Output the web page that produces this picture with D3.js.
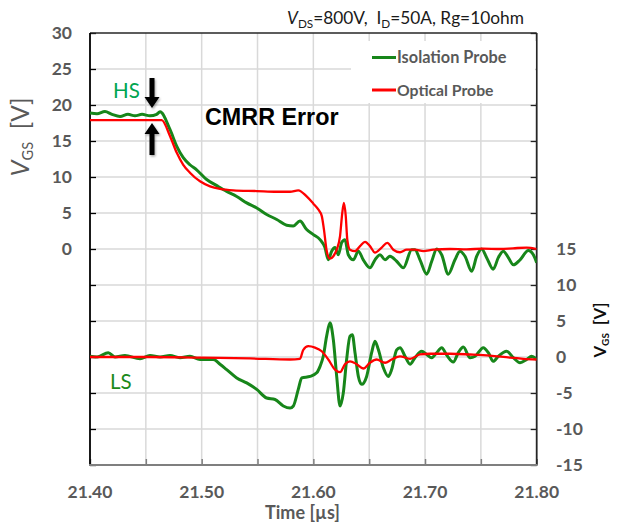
<!DOCTYPE html>
<html><head><meta charset="utf-8">
<script src="https://cdn.jsdelivr.net/npm/d3@7"></script>
<style>body{margin:0;background:#fff}svg{display:block}</style>
</head><body>
<svg id="c" width="626" height="527"></svg>
<script>
// ---- data ----
const xTicks = [21.40, 21.45, 21.50, 21.55, 21.60, 21.65, 21.70, 21.75, 21.80];
const xTickLabels = ["21.40", "", "21.50", "", "21.60", "", "21.70", "", "21.80"];
const leftTicks = [0, 5, 10, 15, 20, 25, 30];
const rightTicks = [-15, -10, -5, 0, 5, 10, 15];
const seriesNames = ["Isolation Probe", "Optical Probe"];

// High side (left axis)
const hsIsoT = [21.4000,21.4063,21.4134,21.4197,21.4269,21.4340,21.4403,21.4466,21.4537,21.4597,21.4627,21.4716,21.4776,21.4835,21.4895,21.4955,21.5045,21.5135,21.5224,21.5314,21.5403,21.5493,21.5582,21.5672,21.5761,21.5820,21.5880,21.5940,21.6000,21.6060,21.6104,21.6134,21.6164,21.6194,21.6223,21.6254,21.6283,21.6313,21.6358,21.6403,21.6447,21.6507,21.6552,21.6597,21.6642,21.6686,21.6746,21.6806,21.6881,21.6910,21.6955,21.7015,21.7060,21.7105,21.7149,21.7208,21.7268,21.7313,21.7358,21.7418,21.7463,21.7507,21.7552,21.7611,21.7656,21.7701,21.7746,21.7791,21.7851,21.7925,21.7970,21.8000];
const hsIsoV = [18.9,18.8,19.1,18.7,18.4,18.7,18.5,18.7,18.5,18.7,19.05,16.6,14.3,12.7,11.7,11.0,9.65,8.8,8.0,7.3,6.4,5.7,4.8,4.1,3.3,3.2,3.9,2.7,2.0,1.3,0.2,-1.5,-0.3,0.2,-0.8,0.9,1.3,-0.8,-1.5,-0.3,-1.5,-2.6,-1.5,-0.8,-1.5,-1.0,-1.7,-2.6,-0.1,-0.1,-1.5,-3.5,-1.7,0.0,-0.8,-3.5,-1.5,-0.3,-1.0,-3.1,-1.0,0.0,-1.2,-2.8,-1.2,-0.3,-1.2,-2.2,-1.5,-0.2,-0.8,-1.9];
const hsOptT = [21.4000,21.4642,21.4716,21.4776,21.4835,21.4895,21.4985,21.5075,21.5164,21.5283,21.5493,21.5672,21.5791,21.5865,21.5940,21.6000,21.6044,21.6075,21.6095,21.6120,21.6149,21.6179,21.6209,21.6239,21.6259,21.6274,21.6290,21.6304,21.6328,21.6373,21.6418,21.6463,21.6507,21.6552,21.6612,21.6662,21.6716,21.6776,21.6836,21.6910,21.6985,21.7074,21.7224,21.7373,21.7519,21.7672,21.7788,21.7910,21.8000];
const hsOptV = [17.9,17.9,15.7,13.4,11.7,10.6,9.4,8.7,8.35,8.15,8.05,7.95,7.95,8.15,7.3,6.3,5.5,4.6,2.7,-0.3,-1.35,-1.0,-0.1,1.8,5.0,6.4,4.6,1.3,-0.1,-0.3,0.4,1.0,0.4,-0.5,0.2,0.85,-0.1,-0.45,-0.1,-0.1,-0.3,-0.1,0.0,-0.05,0.05,0.0,0.1,0.2,0.0];

// Low side (right axis)
const lsIsoT = [21.4000,21.4063,21.4164,21.4224,21.4313,21.4448,21.4537,21.4627,21.4716,21.4806,21.4895,21.4985,21.5104,21.5164,21.5224,21.5314,21.5403,21.5493,21.5582,21.5657,21.5731,21.5791,21.5821,21.5865,21.5896,21.5970,21.6030,21.6060,21.6089,21.6119,21.6149,21.6179,21.6209,21.6239,21.6268,21.6298,21.6328,21.6349,21.6373,21.6403,21.6433,21.6477,21.6522,21.6552,21.6582,21.6627,21.6671,21.6701,21.6746,21.6776,21.6821,21.6866,21.6910,21.6970,21.7015,21.7060,21.7105,21.7149,21.7197,21.7253,21.7298,21.7343,21.7403,21.7448,21.7522,21.7567,21.7611,21.7656,21.7731,21.7791,21.7851,21.7910,21.7955,21.8000];
const lsIsoV = [0.1,0.0,0.6,0.0,0.2,-0.25,0.2,0.0,0.2,-0.1,0.1,-0.35,-0.35,-1.0,-1.75,-2.9,-3.6,-4.5,-5.7,-5.9,-6.8,-7.1,-6.8,-4.5,-2.9,-2.7,-2.2,-1.3,0.1,2.9,4.75,2.4,-2.7,-6.8,-5.0,-0.35,2.9,3.1,0.6,-2.7,-3.8,-2.7,0.6,2.2,1.04,-1.5,-2.7,-1.75,1.0,1.3,0.1,-1.0,-0.1,0.8,0.35,-0.1,0.6,1.3,0.2,-0.7,0.6,1.4,-0.1,0.1,1.3,0.6,-0.6,0.1,0.8,-0.1,-0.8,-0.35,0.1,-0.35];
const lsOptT = [21.4000,21.4537,21.4985,21.5433,21.5791,21.5880,21.5910,21.5955,21.6015,21.6075,21.6134,21.6194,21.6239,21.6283,21.6328,21.6388,21.6447,21.6507,21.6567,21.6642,21.6701,21.6776,21.6866,21.6955,21.7045,21.7224,21.7403,21.7582,21.7761,21.7880,21.8000];
const lsOptV = [0.0,0.0,-0.1,-0.2,-0.35,-0.25,1.0,1.5,1.3,0.8,-0.35,-1.75,-2.1,-1.0,-0.6,-1.0,-1.6,-0.8,-0.35,-0.8,-0.35,0.1,-0.25,0.35,0.45,0.45,0.35,0.2,-0.1,-0.25,-0.35];

// ---- drawing ----
const GREEN = "#17861a", RED = "#ff0000", GRAY = "#595959", GRID = "#d9d9d9";
const FONT = "Lato, 'Open Sans', sans-serif";
const L = 90, R = 536.7, T = 33, B = 465;
const svg = d3.select("#c");
const x = d3.scaleLinear().domain([21.40, 21.80]).range([L, R]);
const yL = d3.scaleLinear().domain([-30, 30]).range([B, T]);
const yR = d3.scaleLinear().domain([-15, 45]).range([B, T]);

function fit(sel, w) {
  const bw = sel.node().getBBox().width;
  const fs = parseFloat(sel.attr("font-size"));
  sel.attr("font-size", fs * w / bw);
}

// grid
const gridVals = d3.range(-25, 30, 5);
svg.append("g").selectAll("line").data(gridVals).join("line")
  .attr("x1", L).attr("x2", R).attr("y1", d => yL(d)).attr("y2", d => yL(d))
  .attr("stroke", GRID).attr("stroke-width", 1.5);
svg.append("g").selectAll("line").data(xTicks.slice(1, -1)).join("line")
  .attr("x1", d => x(d)).attr("x2", d => x(d)).attr("y1", T).attr("y2", B)
  .attr("stroke", GRID).attr("stroke-width", 1.5);

// axes via d3 axis generators (inward ticks)
const axL = svg.append("g").attr("transform", `translate(${L},0)`)
  .call(d3.axisRight(yL).tickValues(d3.range(-30, 31, 5)).tickSize(6).tickFormat(""));
const axR = svg.append("g").attr("transform", `translate(${R},0)`)
  .call(d3.axisLeft(yR).tickValues(d3.range(-15, 46, 5)).tickSize(6).tickFormat(""));
const axB = svg.append("g").attr("transform", `translate(0,${B})`)
  .call(d3.axisTop(x).tickValues(xTicks).tickSize(6).tickFormat(""));
[axL, axR, axB].forEach(a => a.select(".domain").remove());
axL.selectAll("line").attr("stroke", "#000").attr("stroke-width", 1.3);
axR.selectAll("line").attr("stroke", "#222").attr("stroke-width", 1.3);
axB.selectAll("line").attr("stroke", "#7f7f7f").attr("stroke-width", 1.5);

// frame
svg.append("line").attr("x1", L).attr("x2", R).attr("y1", T).attr("y2", T).attr("stroke", "#262626").attr("stroke-width", 1.5);
svg.append("line").attr("x1", L).attr("x2", L).attr("y1", T).attr("y2", B).attr("stroke", "#000").attr("stroke-width", 1.8);
svg.append("line").attr("x1", R).attr("x2", R).attr("y1", T).attr("y2", B).attr("stroke", "#262626").attr("stroke-width", 1.8);
svg.append("line").attr("x1", L - 1).attr("x2", R + 1).attr("y1", B).attr("y2", B).attr("stroke", "#7f7f7f").attr("stroke-width", 2.2);

// tick labels
const TFS = 17.5;
svg.append("g").selectAll("text").data(leftTicks).join("text")
  .attr("x", 72).attr("y", d => yL(d)).attr("dy", "0.36em").attr("text-anchor", "end")
  .attr("font-family", FONT).attr("font-weight", "bold").attr("font-size", TFS).attr("fill", GRAY)
  .text(d => d);
svg.append("g").selectAll("text").data(rightTicks).join("text")
  .attr("x", 556).attr("y", d => yR(d)).attr("dy", "0.36em").attr("text-anchor", "start")
  .attr("font-family", FONT).attr("font-weight", "bold").attr("font-size", TFS).attr("fill", GRAY)
  .text(d => (d < 0 ? "-" + Math.abs(d) : d));
svg.append("g").selectAll("text").data(xTicks).join("text")
  .attr("x", d => x(d)).attr("y", 498).attr("text-anchor", "middle")
  .attr("font-family", FONT).attr("font-weight", "bold").attr("font-size", TFS).attr("fill", GRAY)
  .text((d, i) => xTickLabels[i]);

// lines
const mk = (T_, V_, ys) => d3.line().curve(d3.curveMonotoneX).x((d, i) => x(T_[i])).y((d, i) => ys(V_[i]))(V_);
svg.append("clipPath").attr("id", "pc").append("rect").attr("x", L).attr("y", T).attr("width", R - L).attr("height", B - T);
const gl = svg.append("g").attr("clip-path", "url(#pc)");
gl.append("path").attr("d", mk(lsIsoT, lsIsoV, yR)).attr("fill", "none").attr("stroke", GREEN).attr("stroke-width", 3).attr("stroke-linejoin", "round");
gl.append("path").attr("d", mk(lsOptT, lsOptV, yR)).attr("fill", "none").attr("stroke", RED).attr("stroke-width", 2.3).attr("stroke-linejoin", "round");
gl.append("path").attr("d", mk(hsIsoT, hsIsoV, yL)).attr("fill", "none").attr("stroke", GREEN).attr("stroke-width", 3).attr("stroke-linejoin", "round");
gl.append("path").attr("d", mk(hsOptT, hsOptV, yL)).attr("fill", "none").attr("stroke", RED).attr("stroke-width", 2.3).attr("stroke-linejoin", "round");

// legend
svg.append("rect").attr("x", 351).attr("y", 41).attr("width", R - 352).attr("height", 62).attr("fill", "#fff");
const legY = [57.5, 90];
const legW = [110, 97];
seriesNames.forEach((n, i) => {
  svg.append("line").attr("x1", 372).attr("x2", 396).attr("y1", legY[i]).attr("y2", legY[i])
    .attr("stroke", i === 0 ? GREEN : RED).attr("stroke-width", 3);
  const t = svg.append("text").attr("x", 397).attr("y", legY[i]).attr("dy", "0.36em")
    .attr("font-family", FONT).attr("font-weight", "bold").attr("font-size", 16).attr("fill", GRAY).text(n);
  fit(t, legW[i]);
});

// title
const title = svg.append("text").attr("x", 287).attr("y", 24)
  .attr("font-family", FONT).attr("font-size", 16).attr("fill", "#1a1a1a");
title.append("tspan").attr("font-style", "italic").text("V");
title.append("tspan").attr("font-size", "0.68em").attr("dy", "0.3em").text("DS");
title.append("tspan").attr("dy", "-0.2em").text("=800V,\u00a0\u00a0I");
title.append("tspan").attr("font-size", "0.68em").attr("dy", "0.3em").text("D");
title.append("tspan").attr("dy", "-0.2em").text("=50A, Rg=10ohm");
fit(title, 237);

// annotations
const cm = svg.append("text").attr("x", 205).attr("y", 125)
  .attr("font-family", "'Liberation Sans', Arial, sans-serif").attr("font-weight", "bold").attr("font-size", 22).attr("fill", "#000").text("CMRR Error");
fit(cm, 134);
svg.append("text").attr("x", 113).attr("y", 98).attr("font-family", FONT).attr("font-size", 20.5).attr("fill", "#00a550").text("HS");
svg.append("text").attr("x", 110).attr("y", 389).attr("font-family", FONT).attr("font-size", 20.5).attr("fill", "#1a8a1a").text("LS");

// arrows
const ax0 = 152;
const defs = svg.append("defs");
const f = defs.append("filter").attr("id", "sh").attr("x", "-50%").attr("y", "-50%").attr("width", "200%").attr("height", "200%");
f.append("feDropShadow").attr("dx", 1).attr("dy", 1.5).attr("stdDeviation", 1.2).attr("flood-color", "#000").attr("flood-opacity", 0.35);
svg.append("path").attr("filter", "url(#sh)").attr("fill", "#000")
  .attr("d", `M${ax0-2.5},78 L${ax0+2.5},78 L${ax0+2.5},97 L${ax0+7.5},97 L${ax0},108 L${ax0-7.5},97 L${ax0-2.5},97 Z`);
svg.append("path").attr("filter", "url(#sh)").attr("fill", "#000")
  .attr("d", `M${ax0-2.5},155 L${ax0+2.5},155 L${ax0+2.5},134 L${ax0+7.5},134 L${ax0},123 L${ax0-7.5},134 L${ax0-2.5},134 Z`);

// axis titles
const yl = svg.append("text").attr("transform", "translate(29,137) rotate(-90)").attr("text-anchor", "middle")
  .attr("font-family", FONT).attr("font-size", 18).attr("fill", GRAY);
yl.append("tspan").attr("font-style", "italic").attr("font-size", "1.05em").text("V");
yl.append("tspan").attr("font-size", "0.6em").attr("dy", "0.3em").text("GS");
yl.append("tspan").attr("dy", "-0.18em").text("\u00a0\u00a0[V]");
fit(yl, 79);

const yr = svg.append("text").attr("transform", "translate(606,330) rotate(-90)").attr("text-anchor", "middle")
  .attr("font-family", FONT).attr("font-weight", "bold").attr("font-size", 17).attr("fill", "#0d0d0d");
yr.append("tspan").text("V");
yr.append("tspan").attr("font-size", "0.6em").attr("dy", "0.3em").text("GS");
yr.append("tspan").attr("dy", "-0.18em").text("\u00a0\u00a0[V]");
fit(yr, 56);

const xl = svg.append("text").attr("x", 302.5).attr("y", 519).attr("text-anchor", "middle")
  .attr("font-family", FONT).attr("font-weight", "bold").attr("font-size", 17).attr("fill", GRAY).text("Time [\u00b5s]");
fit(xl, 75);
</script>
</body></html>
